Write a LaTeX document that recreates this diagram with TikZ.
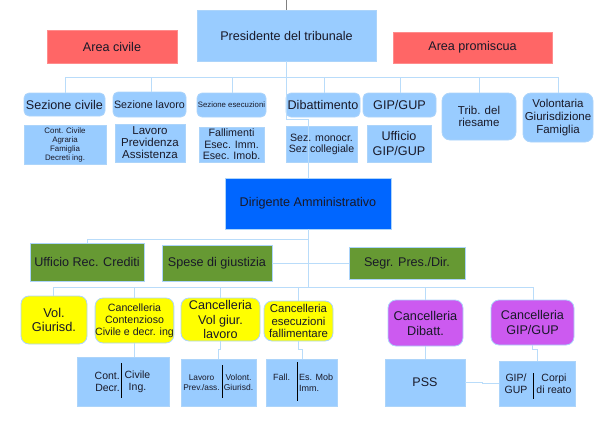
\documentclass[tikz,border=0pt]{standalone}
\usepackage{fontspec}
\setmainfont{Liberation Sans}
\definecolor{lb}{RGB}{153,204,255}
\definecolor{bd}{RGB}{172,212,250}
\definecolor{ln}{RGB}{185,220,250}
\definecolor{rd}{RGB}{255,102,102}
\definecolor{rdb}{RGB}{255,140,140}
\definecolor{gr}{RGB}{102,153,51}
\definecolor{db}{RGB}{0,102,255}
\definecolor{yl}{RGB}{255,255,0}
\definecolor{pu}{RGB}{204,90,240}
\definecolor{tx}{RGB}{25,25,40}
\newcommand{\fsz}[2]{\fontsize{#1}{#2}\selectfont}
\begin{document}
\begin{tikzpicture}[x=1pt,y=-1pt,
  base/.style={draw=bd, fill=lb, text=tx, align=center, inner sep=0pt, line width=0.8pt},
  sq/.style={base},
  rnd/.style={base, rounded corners=5pt},
  rnd2/.style={base, rounded corners=8pt},
  redbox/.style={base, fill=rd, draw=rdb},
  grbox/.style={base, fill=gr},
  ylbox/.style={rnd2, fill=yl},
  pubox/.style={rnd2, fill=pu},
  conn/.style={draw=ln, line width=0.8pt},
  divl/.style={draw=black, line width=0.6pt},
  lbl/.style={text=tx, inner sep=0pt, align=center}]
\useasboundingbox (0,0) rectangle (600,426);
% top row
\node[sq, minimum width=179pt, minimum height=51pt, font=\fsz{12.6}{14}] (pres) at (286.5,35.5) {Presidente del tribunale};
\node[redbox, minimum width=130pt, minimum height=33pt, font=\fsz{12.6}{14}] (areaciv) at (112,46.5) {Area civile};
\node[redbox, minimum width=159pt, minimum height=31pt, font=\fsz{12.6}{14}] (areaprom) at (472.5,47.5) {Area promiscua};
\coordinate (top) at (286.5,0);
% row 2
\node[rnd, minimum width=81pt, minimum height=23pt, font=\fsz{12.6}{14}] (sezciv) at (64.5,104.5) {Sezione civile};
\node[rnd, minimum width=73pt, minimum height=25pt, font=\fsz{10.7}{12}] (sezlav) at (149.5,104.5) {Sezione lavoro};
\node[rnd, minimum width=69pt, minimum height=24pt, font=\fsz{7.8}{9}] (sezese) at (231.5,105) {Sezione esecuzioni};
\node[rnd, minimum width=74pt, minimum height=24pt, font=\fsz{12.6}{14}] (dib) at (323,105) {Dibattimento};
\node[rnd, minimum width=73pt, minimum height=24pt, font=\fsz{12.6}{14}] (gip) at (399.5,105) {GIP/GUP};
\node[rnd2, minimum width=74pt, minimum height=47pt, font=\fsz{11.5}{12.5}] (trib) at (479,116.5) {Trib. del\\riesame};
\node[rnd2, minimum width=70pt, minimum height=49pt, font=\fsz{11.5}{13}] (vol) at (558,117.5) {Volontaria\\Giurisdizione\\Famiglia};
% row 3
\node[sq, minimum width=82pt, minimum height=39pt, font=\fsz{7.9}{9}] (cont) at (65,144.5) {Cont. Civile\\Agraria\\Famiglia\\Decreti ing.};
\node[sq, minimum width=70pt, minimum height=38pt, font=\fsz{11.5}{12}] (lavprev) at (150,143) {Lavoro\\Previdenza\\Assistenza};
\node[sq, minimum width=65pt, minimum height=35pt, font=\fsz{10.7}{11.5}] (fall) at (231.5,144.5) {Fallimenti\\Esec. Imm.\\Esec. Imob.};
\node[sq, minimum width=71pt, minimum height=36pt, font=\fsz{10.6}{11}] (sezmon) at (321.5,144) {Sez. monocr.\\Sez.collegiale};
\node[sq, minimum width=64pt, minimum height=37pt, font=\fsz{12.6}{15}] (uffgip) at (399,143.5) {Ufficio\\GIP/GUP};
% dirigente
\node[base, fill=db, minimum width=166pt, minimum height=51pt, font=\fsz{12.6}{14}] (dir) at (308,203.5) {Dirigente Amministrativo};
% green
\node[grbox, minimum width=114pt, minimum height=38pt, font=\fsz{12.6}{14}] (urc) at (87,262) {Ufficio Rec. Crediti};
\node[grbox, minimum width=110pt, minimum height=36pt, font=\fsz{12.6}{14}] (spese) at (217,263) {Spese di giustizia};
\node[grbox, minimum width=116pt, minimum height=32pt, font=\fsz{12.6}{14}] (segr) at (407,263) {Segr. Pres./Dir.};
% yellow / purple
\node[ylbox, minimum width=66pt, minimum height=48pt, font=\fsz{12.8}{14}] (volg) at (54,320) {Vol.\\Giurisd.};
\node[ylbox, minimum width=77pt, minimum height=45pt, font=\fsz{10.6}{12}] (ccc) at (134.5,320.5) {Cancelleria\\Contenzioso\\Civile e decr. ing};
\node[ylbox, minimum width=79pt, minimum height=43pt, font=\fsz{12.6}{14.5}] (cvgl) at (220.5,319.5) {Cancelleria\\Vol giur.\\lavoro};
\node[ylbox, minimum width=69pt, minimum height=40pt, font=\fsz{11.4}{12.5}] (cef) at (298.5,321) {Cancelleria\\esecuzioni\\fallimentare};
\node[pubox, minimum width=75pt, minimum height=46pt, font=\fsz{12.7}{15}] (cdib) at (425.5,323) {Cancelleria\\Dibatt.};
\node[pubox, minimum width=83pt, minimum height=45pt, font=\fsz{12.6}{15}] (cgip) at (532.5,322.5) {Cancelleria\\GIP/GUP};
% bottom boxes
\node[sq, minimum width=92pt, minimum height=49pt] (b1) at (123,381.5) {};
\node[sq, minimum width=75pt, minimum height=47pt] (b2) at (218.5,382.5) {};
\node[sq, minimum width=71pt, minimum height=47pt] (b3) at (301.5,382.5) {};
\node[sq, minimum width=80pt, minimum height=47pt, font=\fsz{12.5}{14}] (pss) at (425,382.5) {PSS};
\node[sq, minimum width=76pt, minimum height=45pt] (b5) at (537,383.5) {};
\node[lbl, anchor=east, align=right, font=\fsz{10.5}{12}] (b1a) at (120,382) {Cont.\\Decr.};
\node[lbl, font=\fsz{10.5}{12}] (b1b) at (137.5,382) {Civile\\Ing.};
\node[lbl, font=\fsz{8.3}{9.5}] (b2a) at (201.5,382.5) {Lavoro\\Prev./ass.};
\node[lbl, font=\fsz{8.5}{9.5}] (b2b) at (238.5,382.5) {Volont.\\Giurisd.};
\node[lbl, font=\fsz{9}{11}] (b3a) at (281.5,377) {Fall.};
\node[lbl, anchor=west, align=left, font=\fsz{9}{11}] (b3b) at (299,382.5) {Es. Mob\\Imm.};
\node[lbl, font=\fsz{10.5}{11.5}] (b5a) at (516,383.5) {GIP/\\GUP};
\node[lbl, font=\fsz{10.5}{11.5}] (b5b) at (554,383.5) {Corpi\\di reato};
\draw[divl] (121,363) -- (121,398);
\draw[divl] (222,365) -- (222,398);
\draw[divl] (297,362) -- (297,401);
\draw[divl] (533,373) -- (533,399);
% connectors
\draw[draw=gray, line width=1.1pt] (top) -- (pres.north);
\coordinate (bus1L) at (65,77);
\coordinate (bus1R) at (558,77);
\draw[conn] (bus1L) -- (bus1R);
\foreach \n/\xx in {sezciv/65, sezlav/151, sezese/232, dib/324, gip/400, trib/479, vol/558}
  \draw[conn] (\xx,77) -- (\xx,0 |- \n.north);
\coordinate (j1) at (308,119);
\draw[conn] (pres.south) |- (j1) -- (dir.north);
\coordinate (d1) at (308,239);
\coordinate (bus2L) at (53,287);
\coordinate (bus2R) at (533,287);
\draw[conn] (dir.south) -- (dir.south |- bus2L);
\draw[conn] (d1) -| (urc.north);
\draw[conn] (spese.east) -- (spese.east -| dir.south);
\draw[conn] (segr.west) -- (segr.west -| dir.south);
\draw[conn] (bus2L) -- (bus2R);
\foreach \n/\xx in {volg/53, ccc/134.5, cvgl/220.5, cef/298.5, cdib/425.5, cgip/533}
  \draw[conn] (\xx,287) -- (\xx,0 |- \n.north);
\draw[conn] (ccc.south) -- (ccc.south |- b1.north);
\coordinate (j2) at (218,349);
\draw[conn] (cvgl.south) |- (j2) -- (j2 |- b2.north);
\coordinate (j3) at (302,349);
\draw[conn] (cef.south) |- (j3) -- (j3 |- b3.north);
\draw[conn] (cdib.south) -- (cdib.south |- pss.north);
\coordinate (j4) at (537,349);
\draw[conn] (cgip.south) |- (j4) -- (b5.north);
\coordinate (j5) at (482,0);
\draw[conn] (pss.east) -- (pss.east -| j5) |- (b5.west);
\end{tikzpicture}
\end{document}
